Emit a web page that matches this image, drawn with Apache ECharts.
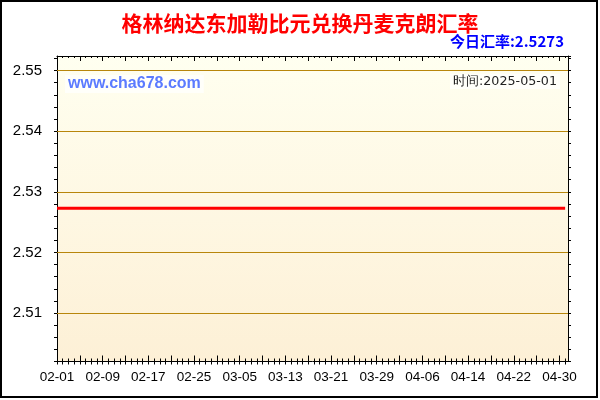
<!DOCTYPE html>
<html>
<head>
<meta charset="utf-8">
<script src="https://cdn.jsdelivr.net/npm/echarts@6/dist/echarts.min.js"></script>
<style>html,body{margin:0;padding:0;background:#fff}#c{width:600px;height:400px}</style>
</head>
<body>
<div id="c"></div>
<script>
const dates = [
 '02-01','02-02','02-03','02-04','02-05','02-06','02-07','02-08','02-09','02-10',
 '02-11','02-12','02-13','02-14','02-15','02-16','02-17','02-18','02-19','02-20',
 '02-21','02-22','02-23','02-24','02-25','02-26','02-27','02-28',
 '03-01','03-02','03-03','03-04','03-05','03-06','03-07','03-08','03-09','03-10',
 '03-11','03-12','03-13','03-14','03-15','03-16','03-17','03-18','03-19','03-20',
 '03-21','03-22','03-23','03-24','03-25','03-26','03-27','03-28','03-29','03-30','03-31',
 '04-01','04-02','04-03','04-04','04-05','04-06','04-07','04-08','04-09','04-10',
 '04-11','04-12','04-13','04-14','04-15','04-16','04-17','04-18','04-19','04-20',
 '04-21','04-22','04-23','04-24','04-25','04-26','04-27','04-28','04-29','04-30',
 '05-01'
];
const rates = [
 2.5273,2.5273,2.5273,2.5273,2.5273,2.5273,2.5273,2.5273,2.5273,2.5273,
 2.5273,2.5273,2.5273,2.5273,2.5273,2.5273,2.5273,2.5273,2.5273,2.5273,
 2.5273,2.5273,2.5273,2.5273,2.5273,2.5273,2.5273,2.5273,
 2.5273,2.5273,2.5273,2.5273,2.5273,2.5273,2.5273,2.5273,2.5273,2.5273,
 2.5273,2.5273,2.5273,2.5273,2.5273,2.5273,2.5273,2.5273,2.5273,2.5273,
 2.5273,2.5273,2.5273,2.5273,2.5273,2.5273,2.5273,2.5273,2.5273,2.5273,2.5273,
 2.5273,2.5273,2.5273,2.5273,2.5273,2.5273,2.5273,2.5273,2.5273,2.5273,
 2.5273,2.5273,2.5273,2.5273,2.5273,2.5273,2.5273,2.5273,2.5273,2.5273,
 2.5273,2.5273,2.5273,2.5273,2.5273,2.5273,2.5273,2.5273,2.5273,2.5273,
 2.5273
];
const xTickLabels = ['02-01','02-09','02-17','02-25','03-05','03-13','03-21','03-29','04-06','04-14','04-22','04-30'];
const yTicks = [2.51, 2.52, 2.53, 2.54, 2.55];

const titleText = '格林纳达东加勒比元兑换丹麦克朗汇率';
const todayText = '今日汇率:2.5273';
const siteText = 'www.cha678.com';
const timeText = '时间:2025-05-01';

const X_MIN = 0, X_MAX = 89.5;
const Y_MIN = 2.502, Y_MAX = 2.5524;

function xAxisDef(pos, interval, opts) {
  return Object.assign({
    type: 'value', position: pos, min: X_MIN, max: X_MAX, interval: interval,
    axisLine: { show: false }, axisTick: { show: false },
    axisLabel: { show: false }, splitLine: { show: false }
  }, opts);
}
function yAxisDef(pos, opts) {
  return Object.assign({
    type: 'value', position: pos, min: Y_MIN, max: Y_MAX, interval: 0.002,
    axisLine: { show: false }, axisTick: { show: false },
    axisLabel: { show: false }, splitLine: { show: false }
  }, opts);
}
const black = { color: '#000', width: 1 };

const chart = echarts.init(document.getElementById('c'), null, { renderer: 'canvas' });
chart.setOption({
  animation: false,
  backgroundColor: '#ffffff',
  title: [
    { text: titleText, left: 'center', top: 13, padding: 0,
      textStyle: { color: '#FF0000', fontSize: 21, fontWeight: 'bold', fontFamily: 'Noto Sans CJK SC' } },
    { text: todayText, right: 36, top: 34, padding: 0,
      textStyle: { color: '#0000FF', fontSize: 15, fontWeight: 'bold', fontFamily: 'Noto Sans CJK SC' } },
    { text: siteText, left: 65, top: 75, padding: [1, 3],
      backgroundColor: 'rgba(255,255,255,0.7)',
      textStyle: { color: '#5B7BFF', fontSize: 16, fontWeight: 'bold', fontFamily: 'Liberation Sans' } },
    { text: timeText, right: 40, top: 74, padding: [1, 3],
      backgroundColor: 'rgba(255,255,255,0.7)',
      textStyle: { color: '#222', fontSize: 12.7, fontWeight: 'normal', fontFamily: 'DejaVu Sans' } }
  ],
  grid: {
    left: 57, right: 32, top: 56, bottom: 38.5,
    show: true, borderWidth: 0,
    backgroundColor: { type: 'linear', x: 0, y: 0, x2: 0, y2: 1,
      colorStops: [{ offset: 0, color: '#FFFFF0' }, { offset: 1, color: '#FDF0D6' }] }
  },
  xAxis: [
    xAxisDef('bottom', 1, {
      axisLine: { show: true, onZero: false, lineStyle: black },
      axisTick: { show: true, inside: false, length: 3, lineStyle: black },
      axisLabel: { show: true, margin: 9, color: '#000', fontSize: 13.5, fontFamily: 'Liberation Sans',
        showMaxLabel: false,
        formatter: function (v) { const d = dates[v]; return (d && xTickLabels.indexOf(d) >= 0) ? d : ''; } }
    }),
    xAxisDef('bottom', 1, { axisTick: { show: true, inside: true, length: 3, lineStyle: black } }),
    xAxisDef('bottom', 4, { axisTick: { show: true, inside: true, length: 6, lineStyle: black } }),
    xAxisDef('top', 1, {
      axisLine: { show: true, onZero: false, lineStyle: black },
      axisTick: { show: true, inside: true, length: 2, lineStyle: black }
    }),
    xAxisDef('top', 4, { axisTick: { show: true, inside: true, length: 5, lineStyle: black } })
  ],
  yAxis: [
    yAxisDef('left', {
      axisLine: { show: true, onZero: false, lineStyle: black },
      axisTick: { show: true, inside: false, length: 3, lineStyle: black },
      axisLabel: { show: true, margin: 15, color: '#000', fontSize: 15, fontFamily: 'Liberation Sans',
        showMaxLabel: false,
        formatter: function (v) {
          for (const t of yTicks) { if (Math.abs(t - v) < 1e-7) return t.toFixed(2); }
          return '';
        } }
    }),
    yAxisDef('right', {
      axisLine: { show: true, onZero: false, lineStyle: black },
      axisTick: { show: true, inside: false, length: 3, lineStyle: black }
    })
  ],
  series: [{
    type: 'line',
    xAxisIndex: 0, yAxisIndex: 0,
    data: rates.map(function (r, i) { return [i, r]; }),
    showSymbol: false,
    lineStyle: { color: '#FF0000', width: 3 },
    itemStyle: { color: '#FF0000' },
    z: 5,
    markLine: {
      silent: true, symbol: ['none', 'none'], animation: false,
      label: { show: false },
      lineStyle: { color: '#B8860B', width: 1, type: 'solid' },
      emphasis: { disabled: true },
      data: yTicks.map(function (t) { return { yAxis: t }; })
    }
  }],
  graphic: [{
    type: 'rect', silent: true, z: 100,
    shape: { x: 1, y: 1, width: 596, height: 396 },
    style: { fill: 'none', stroke: '#000', lineWidth: 2 }
  }]
});
</script>
</body>
</html>
